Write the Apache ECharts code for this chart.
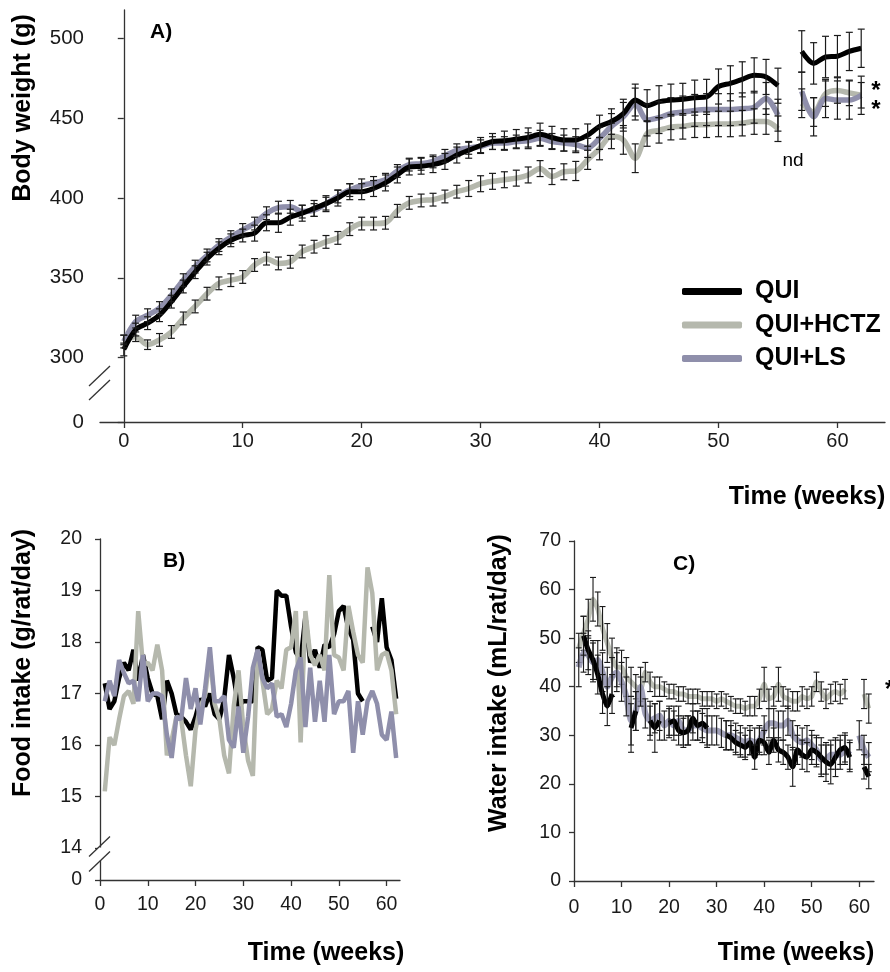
<!DOCTYPE html>
<html>
<head>
<meta charset="utf-8">
<script src="https://cdn.jsdelivr.net/npm/echarts@6/dist/echarts.min.js"></script>
<style>
  html, body { margin: 0; padding: 0; background: #fff; }
  #main { width: 890px; height: 972px; }
</style>
</head>
<body>
<div id="main"></div>
<script>
// ---- A) body weight, weeks 0..62 (week 56 = nd) ----
const weeksA = Array.from({ length: 63 }, (_, i) => i);
const quiA = [305, 317.5, 321.5, 326.5, 335, 344.5, 353.5, 362, 368.5, 373.5,
  376.5, 378, 384.5, 384.5, 388, 390.5, 393.5, 396.5, 400, 404,
  404, 406, 409.5, 414.5, 419.5, 420, 421, 423, 427, 430,
  433, 435.5, 436, 437, 438, 440, 438, 436.5, 436.5, 439.5,
  445, 448, 453, 461.5, 458, 460.5, 461.5, 462, 463, 463.5,
  470, 472, 474.5, 477, 476, 470.5, null, 492, 484.5, 488.5,
  489, 492, 494];
const hctzA = [311, 313, 308, 311, 316, 324.5, 332, 340, 346.5, 348.5,
  350.5, 358, 362, 359, 360, 366.5, 369.5, 372.5, 375, 380.5,
  384, 384, 384.5, 392, 397, 398.5, 399, 401, 404, 406,
  409, 410.5, 411.5, 412.5, 414.5, 418.5, 413.5, 416.5, 417, 424,
  431, 439, 436.5, 425, 440.5, 442.5, 444.5, 445, 446, 446,
  446.5, 446.5, 447, 448, 448, 443.5, null, 459.5, 454, 465.5,
  467.5, 466, 464.5];
const lsA = [310, 322.5, 326.5, 331, 339, 348.5, 357, 364, 370.5, 375.5,
  380, 384, 390.5, 394, 394.5, 391.5, 392.5, 396.5, 401, 405,
  408, 409.5, 411.5, 417, 421, 421.5, 423, 426.5, 430, 431.5,
  432.5, 434.5, 434.5, 435.5, 436, 437.5, 435.5, 434.5, 433.5, 431.5,
  437.5, 445, 451, 459, 449, 450.5, 453, 454, 455, 455.5,
  455.5, 455.5, 456, 457, 462.5, 452, null, 467, 451, 462.5,
  461.5, 461.5, 464.5];
const quiErrA = [4, 4, 4, 4, 4, 4, 4, 4, 4, 4,
  4, 5, 5, 6, 5, 5, 5, 5, 5, 5,
  5, 5, 5, 5, 5, 5, 5, 5, 5, 5,
  5, 5, 6, 6, 6, 7, 7, 7, 7, 7,
  7, 8, 9, 10, 10, 10, 10, 10, 11, 11,
  11, 11, 11, 11, 11, 11, null, 13, 13, 13,
  13, 12, 12];
const hctzErrA = [3, 3, 3, 4, 4, 4, 4, 4, 4, 4,
  4, 4, 4, 4, 4, 4, 4, 4, 4, 4,
  4, 4, 4, 4, 4, 4, 4, 4, 4, 5,
  5, 5, 5, 5, 5, 5, 5, 5, 6, 6,
  7, 8, 9, 9, 8, 8, 8, 8, 8, 8,
  8, 8, 8, 8, 8, 8, null, 9, 9, 8,
  8, 8, 8];
const lsErrA = [4, 4, 4, 4, 4, 4, 4, 4, 4, 4,
  4, 4, 4, 4, 4, 4, 4, 4, 4, 4,
  4, 4, 4, 4, 4, 4, 4, 4, 4, 4,
  4, 4, 4, 4, 5, 5, 5, 5, 5, 6,
  7, 8, 9, 10, 10, 10, 10, 10, 10, 10,
  10, 10, 10, 10, 10, 10, null, 12, 12, 12,
  12, 12, 12];

// ---- B) food intake, weeks 1..62 ----
const weeksB = Array.from({ length: 62 }, (_, i) => i + 1);
const quiB = [17.2, 16.7, 16.85, 17.3, 17.6, 17.45, 17.85, 17.25, 17.75, 17.3,
  17.0, 16.95, 16.5, 17.25, 17.0, 16.6, 16.55, 16.45, 16.3, 16.55,
  16.9, 16.75, 17.0, 16.6, 16.5, 16.9, 17.75, 17.3, 16.75, 16.85,
  16.85, 16.85, 17.9, 17.85, 17.25, 17.3, 19.0, 18.9, 18.9, 18.3,
  17.8, 17.65, 18.5, 17.6, 17.85, 17.5, 17.95, 17.9, 18.15, 18.6,
  18.7, 18.25, 18.05, 17.0, 16.85, null, 18.3, 18.0, 18.85, 17.9,
  17.65, 16.9];
const hctzB = [15.1, 16.15, 16.0, 16.5, 16.95, 17.05, 16.8, 18.6, 17.55, 17.6,
  17.45, 17.95, 17.45, 15.8, 16.1, 16.55, 16.5, 15.8, 15.2, 16.3,
  16.75, 16.95, 17.75, 16.8, 16.5, 15.8, 15.45, 16.75, 17.45, 16.35,
  15.7, 15.4, 17.85, 17.25, 16.6, 16.7, 17.25, 17.1, 17.85, 17.9,
  18.6, 16.05, 18.6, 17.75, 17.55, 17.75, 17.45, 19.3, 17.75, 17.7,
  17.45, 18.7, 18.2, 17.75, 17.6, 19.45, 18.95, 17.45, 17.75, 17.8,
  17.45, 16.6];
const lsB = [16.85, 17.25, 16.95, 17.65, 17.4, 17.2, 17.25, 16.85, 17.75, 16.85,
  17.0, 17.0, 16.95, 16.2, 15.75, 16.55, 16.5, 17.3, 16.7, 17.1,
  16.4, 17.1, 17.9, 16.85, 16.85, 16.95, 16.1, 15.95, 16.75, 15.85,
  16.55, 17.5, 17.85, 17.3, 17.1, 17.2, 16.55, 16.6, 16.35, 16.8,
  17.45, 17.7, 16.35, 17.5, 16.45, 17.25, 16.45, 17.75, 16.6, 16.85,
  16.85, 17.05, 15.85, 16.85, 16.2, 16.85, 17.05, 16.8, 16.2, 16.1,
  16.65, 15.75];

// ---- C) water intake, weeks 1..62 ----
const weeksC = Array.from({ length: 62 }, (_, i) => i + 1);
const quiC = [null, 50.5, 47.5, 45.5, 42.5, 38.5, 36, 38.5, null, null,
  null, 31.5, 35, null, null, 33, 31.5, 33, null, 32.5,
  33, 31, 30.5, 31, 33.5, 32, 32.5, 31.5, null, null,
  null, 30, 29.5, 28.5, 28, 27.5, 28.5, 25.5, 29, 28.5,
  26.5, 29, 27, 26.5, 25.5, 23.5, 27, 26, 25.5, 27,
  26.5, 25.5, 24.5, 24, 25.5, 27, 27.5, 25.5, null, null,
  23.5, 21.5];
const hctzC = [48, 51, 54, 58, 56, 52, 49, 46, 44, 44,
  42, 41, 40, 39.5, 43, 41, 40, 40, 39.5, 39,
  39, 38.5, 38.5, 38, 38, 38, 37.5, 37.5, 37.5, 37,
  37.5, 37, 36.5, 36, 36, 35.5, 36, 36, 37.5, 40.5,
  37.5, 38, 40.5, 38, 37.5, 37, 37, 38, 37.5, 38,
  41, 39, 37.5, 38.5, 39, 38.5, 39.5, null, null, null,
  38.5, 35.5];
const lsC = [44, 47, 46.5, 45, 45.5, 43, 40, 42, 43, 41,
  38, 33, 35, 40, 34.5, 33, 33.5, 34, 32, 33,
  32, 33, 31, 31, 32, 32, 31.5, 31, 31, 31,
  30.5, 30, 30, 29.5, 29, 28.5, 29, 28.5, 29, 31,
  32.5, 32.5, 32, 32, 33, 30, 29, 28.5, 29, 28,
  27, 25, 25, 26, 26, 26, 27, 26, null, 30,
  27, 25.5];
const quiErrC = [null, 4, 4, 4, 4, 4, 4, 4, null, null,
  null, 5, 4, null, null, 4, 5, 4, null, 3,
  3, 3, 3, 3, 3, 3, 3, 4, null, null,
  null, 3, 2.5, 2.5, 2.5, 2.5, 2.5, 2.5, 2.5, 2.5,
  2.5, 2.5, 2.5, 2.5, 2.5, 4, 3, 3, 3, 3,
  3, 4, 4, 4, 4, 3, 3, 3, null, null,
  2.5, 2.5];
const hctzErrC = [3, 3.5, 4, 4.5, 3.5, 4.5, 4, 4, 4, 3.5,
  4, 3, 2.5, 2.5, 2, 2, 2, 2, 1.5, 1.5,
  1.5, 1.5, 1.5, 1.5, 1.5, 1.5, 1.5, 1.5, 1.5, 1.5,
  1.5, 1.5, 1.5, 1.5, 1.5, 1.5, 2, 2, 2, 3.5,
  2, 2, 3.5, 2, 2, 2, 2, 2, 2, 2,
  2, 2, 2, 2, 2, 2, 2, null, null, null,
  3, 3];
const lsErrC = [4, 4, 4, 4, 4, 4, 4, 4, 4, 4,
  4, 5, 4, 4, 3, 3, 3, 3, 3, 3,
  3, 3, 3, 3, 3, 3, 3, 3, 3, 3,
  3, 3, 3, 3, 3, 3, 3, 3, 3, 3,
  3, 3, 3, 3, 3, 3, 3, 3, 3, 3,
  3, 3, 3, 3, 3, 3, 3, 3, null, 3,
  3, 3];

const ticksX = [0, 10, 20, 30, 40, 50, 60];
const ticksYA = [259.5, 300, 350, 400, 450, 500];
const ticksYB = [13.38, 14, 15, 16, 17, 18, 19, 20];

const BLACK = '#000000';
const GRAY = '#b5b8ad';
const LAV = '#8f8fab';
const FONT = '"Liberation Sans", Arial, sans-serif';

function pairs(xs, ys) {
  return xs.map((x, i) => [x, ys[i]]);
}
function errPairs(xs, ys, es) {
  const out = [];
  xs.forEach((x, i) => {
    if (ys[i] != null && es[i] != null) out.push([x, ys[i], es[i]]);
  });
  return out;
}
function errBars(cap, width) {
  return function (params, api) {
    const x = api.value(0), y = api.value(1), e = api.value(2);
    const hi = api.coord([x, y + e]);
    const lo = api.coord([x, y - e]);
    const st = { stroke: '#1a1a1a', lineWidth: width };
    return {
      type: 'group',
      children: [
        { type: 'line', shape: { x1: hi[0], y1: hi[1], x2: lo[0], y2: lo[1] }, style: st },
        { type: 'line', shape: { x1: hi[0] - cap, y1: hi[1], x2: hi[0] + cap, y2: hi[1] }, style: st },
        { type: 'line', shape: { x1: lo[0] - cap, y1: lo[1], x2: lo[0] + cap, y2: lo[1] }, style: st }
      ]
    };
  };
}

function xAxisOf(grid, min, max, margin, size) {
  return {
    type: 'value', gridIndex: grid, min: min, max: max,
    axisLine: { show: true, onZero: false, lineStyle: { color: '#333', width: 1.3 } },
    axisTick: { show: true, customValues: ticksX, length: 6, lineStyle: { color: '#333', width: 1.3 } },
    axisLabel: { customValues: ticksX, fontSize: size, color: '#1a1a1a', margin: margin, fontFamily: FONT },
    splitLine: { show: false }
  };
}

let myChart = echarts.init(document.getElementById('main'));

let option = {
  animation: false,
  backgroundColor: '#fff',
  textStyle: { fontFamily: FONT },
  grid: [
    { left: 100, top: 10, width: 785, height: 412 },
    { left: 100, top: 539, width: 300, height: 341 },
    { left: 574, top: 541, width: 300, height: 340 }
  ],
  xAxis: [
    xAxisOf(0, -2, 64, 9, 20),
    xAxisOf(1, 0, 62.8, 15, 19.5),
    xAxisOf(2, 0, 63.1, 17, 19.5)
  ],
  yAxis: [
    {
      type: 'value', gridIndex: 0, min: 259.5, max: 518,
      axisLine: { show: true, lineStyle: { color: '#333', width: 1.3 } },
      axisTick: { show: true, customValues: ticksYA, length: 6, lineStyle: { color: '#333', width: 1.3 } },
      axisLabel: {
        customValues: ticksYA, fontSize: 20.5, color: '#1a1a1a', margin: 16, fontFamily: FONT,
        formatter: (v) => (v < 290 ? '0' : String(v))
      },
      splitLine: { show: false }
    },
    {
      type: 'value', gridIndex: 1, min: 13.38, max: 20,
      axisLine: { show: true, lineStyle: { color: '#333', width: 1.3 } },
      axisTick: { show: true, customValues: ticksYB, length: 5, lineStyle: { color: '#333', width: 1.3 } },
      axisLabel: {
        customValues: ticksYB, fontSize: 19.5, color: '#1a1a1a', margin: 18, fontFamily: FONT,
        formatter: (v) => (v < 13.9 ? '0' : String(v))
      },
      splitLine: { show: false }
    },
    {
      type: 'value', gridIndex: 2, min: 0, max: 70, interval: 10,
      axisLine: { show: true, lineStyle: { color: '#333', width: 1.3 } },
      axisTick: { show: true, length: 5, lineStyle: { color: '#333', width: 1.3 } },
      axisLabel: { fontSize: 19.5, color: '#1a1a1a', margin: 13, fontFamily: FONT },
      splitLine: { show: false }
    }
  ],
  legend: {
    orient: 'vertical', left: 682, top: 279, padding: 0, icon: 'roundRect',
    itemWidth: 60, itemHeight: 7, itemGap: 8.5,
    selectedMode: false,
    textStyle: { fontSize: 25, fontWeight: 'bold', color: '#000', lineHeight: 25, padding: [0, 0, 0, 8], fontFamily: FONT },
    data: [
      { name: 'QUI', itemStyle: { color: BLACK } },
      { name: 'QUI+HCTZ', itemStyle: { color: GRAY } },
      { name: 'QUI+LS', itemStyle: { color: LAV } }
    ]
  },
  series: [
    // panel A
    { name: 'QUI+HCTZ', type: 'line', xAxisIndex: 0, yAxisIndex: 0, data: pairs(weeksA, hctzA), smooth: 0.3, symbol: 'none', lineStyle: { color: GRAY, width: 5.5 }, itemStyle: { color: GRAY }, z: 2 },
    { name: 'QUI+LS', type: 'line', xAxisIndex: 0, yAxisIndex: 0, data: pairs(weeksA, lsA), smooth: 0.3, symbol: 'none', lineStyle: { color: LAV, width: 5.5 }, itemStyle: { color: LAV }, z: 3 },
    { name: 'QUI', type: 'line', xAxisIndex: 0, yAxisIndex: 0, data: pairs(weeksA, quiA), smooth: 0.3, symbol: 'none', lineStyle: { color: BLACK, width: 5 }, itemStyle: { color: BLACK }, z: 4 },
    { name: 'errA-hctz', type: 'custom', xAxisIndex: 0, yAxisIndex: 0, data: errPairs(weeksA, hctzA, hctzErrA), renderItem: errBars(3.5, 1.2), z: 5 },
    { name: 'errA-ls', type: 'custom', xAxisIndex: 0, yAxisIndex: 0, data: errPairs(weeksA, lsA, lsErrA), renderItem: errBars(3.5, 1.2), z: 5 },
    { name: 'errA-qui', type: 'custom', xAxisIndex: 0, yAxisIndex: 0, data: errPairs(weeksA, quiA, quiErrA), renderItem: errBars(3.5, 1.2), z: 5 },

    // panel B
    { name: 'QUI', type: 'line', xAxisIndex: 1, yAxisIndex: 1, data: pairs(weeksB, quiB), symbol: 'none', lineStyle: { color: BLACK, width: 4.5 }, z: 2 },
    { name: 'QUI+HCTZ', type: 'line', xAxisIndex: 1, yAxisIndex: 1, data: pairs(weeksB, hctzB), symbol: 'none', lineStyle: { color: GRAY, width: 4.5 }, z: 3 },
    { name: 'QUI+LS', type: 'line', xAxisIndex: 1, yAxisIndex: 1, data: pairs(weeksB, lsB), symbol: 'none', lineStyle: { color: LAV, width: 4.5 }, z: 4 },

    // panel C
    { name: 'QUI+HCTZ', type: 'line', xAxisIndex: 2, yAxisIndex: 2, data: pairs(weeksC, hctzC), smooth: 0.2, symbol: 'none', lineStyle: { color: GRAY, width: 5, opacity: 0.9 }, z: 2 },
    { name: 'errC-hctz', type: 'custom', xAxisIndex: 2, yAxisIndex: 2, data: errPairs(weeksC, hctzC, hctzErrC), renderItem: errBars(3, 1.1), z: 3 },
    { name: 'QUI+LS', type: 'line', xAxisIndex: 2, yAxisIndex: 2, data: pairs(weeksC, lsC), smooth: 0.2, symbol: 'none', lineStyle: { color: LAV, width: 6, opacity: 0.85 }, z: 4 },
    { name: 'errC-ls', type: 'custom', xAxisIndex: 2, yAxisIndex: 2, data: errPairs(weeksC, lsC, lsErrC), renderItem: errBars(3, 1.1), z: 5 },
    { name: 'QUI', type: 'line', xAxisIndex: 2, yAxisIndex: 2, data: pairs(weeksC, quiC), smooth: 0.2, symbol: 'none', lineStyle: { color: BLACK, width: 5 }, z: 6 },
    { name: 'errC-qui', type: 'custom', xAxisIndex: 2, yAxisIndex: 2, data: errPairs(weeksC, quiC, quiErrC), renderItem: errBars(3, 1.1), z: 7 }
  ]
};

myChart.setOption(option);

// axis titles, panel letters, annotations and axis break marks
function txt(x, y, s, size, weight, rot, align) {
  return {
    type: 'text', x: x, y: y, rotation: rot || 0, z: 100,
    style: {
      text: s, fill: '#000', font: (weight || 'normal') + ' ' + size + 'px ' + FONT,
      textAlign: align || 'center', textVerticalAlign: 'middle',
      align: align || 'center', verticalAlign: 'middle'
    }
  };
}
function breakMarks(xIdx, yIdx, xVal, v1, v2) {
  const p1 = myChart.convertToPixel({ xAxisIndex: xIdx, yAxisIndex: yIdx }, [xVal, v1]);
  const p2 = myChart.convertToPixel({ xAxisIndex: xIdx, yAxisIndex: yIdx }, [xVal, v2]);
  const st = { stroke: '#333', lineWidth: 1.3 };
  return [
    { type: 'rect', z: 99, shape: { x: p1[0] - 3, y: p1[1] + 1, width: 6, height: p2[1] - p1[1] - 2 }, style: { fill: '#fff' } },
    { type: 'line', z: 100, shape: { x1: p1[0] - 11, y1: p1[1] + 10, x2: p1[0] + 10, y2: p1[1] - 10 }, style: st },
    { type: 'line', z: 100, shape: { x1: p2[0] - 11, y1: p2[1] + 10, x2: p2[0] + 10, y2: p2[1] - 10 }, style: st }
  ];
}

const graphics = [
  txt(23, 108, 'Body weight (g)', 25, 'bold', Math.PI / 2),
  txt(150, 32, 'A)', 21, 'bold', 0, 'left'),
  txt(807, 497, 'Time (weeks)', 25, 'bold'),
  txt(793, 161, 'nd', 19),
  txt(876, 91, '*', 24, 'bold'),
  txt(876, 110, '*', 24, 'bold'),
  txt(23, 663, 'Food intake (g/rat/day)', 25, 'bold', Math.PI / 2),
  txt(163, 561, 'B)', 21, 'bold', 0, 'left'),
  txt(326, 953, 'Time (weeks)', 25, 'bold'),
  txt(499, 683, 'Water intake (mL/rat/day)', 25, 'bold', Math.PI / 2),
  txt(673, 564, 'C)', 21, 'bold', 0, 'left'),
  txt(796, 953, 'Time (weeks)', 25, 'bold'),
  txt(885, 690, '*', 24, 'bold', 0, 'left')
].concat(
  breakMarks(0, 0, -2, 288.4, 279.6),
  breakMarks(1, 1, 0, 14.03, 13.74)
);

myChart.setOption({ graphic: graphics });
</script>
</body>
</html>
